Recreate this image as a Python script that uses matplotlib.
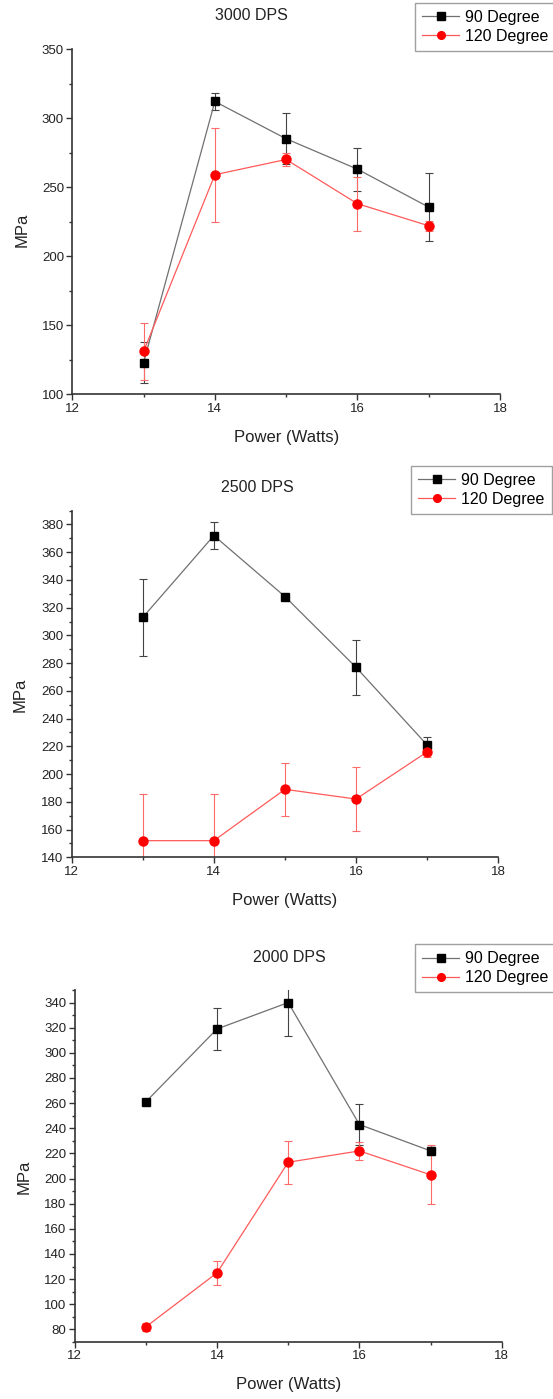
import matplotlib
matplotlib.use("Agg")
import matplotlib.pyplot as plt
from matplotlib.ticker import MultipleLocator

plt.rcParams['font.family'] = ['Liberation Sans', 'DejaVu Sans']

power = [13, 14, 15, 16, 17]

titles = ["3000 DPS", "2500 DPS", "2000 DPS"]

# 3000 DPS
d3000_90 = [123, 312, 285, 263, 235.5]
e3000_90 = [15, 6, 18.5, 15.5, 24.5]
d3000_120 = [131, 259, 270, 238, 222]
e3000_120 = [20.5, 34, 5, 19.5, 3.5]

# 2500 DPS
d2500_90 = [313, 372, 328, 277, 221]
e2500_90 = [28, 10, 2, 20, 5.5]
d2500_120 = [152, 152, 189, 182, 216]
e2500_120 = [34, 34, 19, 23, 4]

# 2000 DPS
d2000_90 = [261, 319, 340, 243, 222]
e2000_90 = [2.5, 16.5, 26.5, 16, 3.5]
d2000_120 = [82, 125, 213, 222, 203]
e2000_120 = [3.5, 9.5, 17, 7.3, 23.4]

series = [
    (d3000_90, e3000_90, d3000_120, e3000_120),
    (d2500_90, e2500_90, d2500_120, e2500_120),
    (d2000_90, e2000_90, d2000_120, e2000_120),
]

W, H = 553, 1399
fig = plt.figure(figsize=(W / 100, H / 100), dpi=100)

# axes boxes in pixels: left, right, top, bottom
boxes = [(72.3, 500, 49, 394.3), (71.7, 498.2, 510.6, 857.3), (74.6, 501.8, 990, 1342)]
ylims = [(100, 350), (140, 390), (70, 350)]
ymaj = [50, 20, 20]
ymin = [25, 10, 10]
title_pos = [(251.6, 15.6), (256.9, 487.3), (289.8, 957.3)]
legend_pos = [(415, 2.7), (411, 465.7), (415, 944)]
ylab_pos = [(-0.1176, 0.475), (-0.121, 0.469), (-0.119, 0.468)]

axis_col = '#333333'

for i in range(3):
    l, r, t, b = boxes[i]
    ax = fig.add_axes([l / W, 1 - b / H, (r - l) / W, (b - t) / H])
    d90, e90, d120, e120 = series[i]
    ax.errorbar(power, d90, yerr=e90, fmt='none', ecolor='#444444', elinewidth=0.8,
                capsize=3, capthick=0.8, zorder=2)
    ax.errorbar(power, d120, yerr=e120, fmt='none', ecolor='#ff6a6a', elinewidth=0.8,
                capsize=3, capthick=0.8, zorder=2)
    h1, = ax.plot(power, d90, '-', color='#707070', lw=0.9, marker='s', ms=6,
                  mfc='black', mec='black', zorder=3, label='90 Degree')
    h2, = ax.plot(power, d120, '-', color='#ff5a5a', lw=0.9, marker='o', ms=6.5,
                  mfc='#ff0000', mec='#ff0000', zorder=3, label='120 Degree')
    ax.set_xlim(12, 18)
    ax.set_ylim(*ylims[i])
    ax.xaxis.set_major_locator(MultipleLocator(2))
    ax.xaxis.set_minor_locator(MultipleLocator(1))
    ax.yaxis.set_major_locator(MultipleLocator(ymaj[i]))
    ax.yaxis.set_minor_locator(MultipleLocator(ymin[i]))
    for s in ['top', 'right']:
        ax.spines[s].set_visible(False)
    for s in ['left', 'bottom']:
        ax.spines[s].set_color(axis_col)
        ax.spines[s].set_linewidth(1.2)
    ax.tick_params(which='major', direction='out', length=4, width=1.0, color=axis_col,
                   labelsize=9.5, labelcolor='#222222', pad=2)
    ax.tick_params(which='minor', direction='out', length=2.5, width=1.0, color=axis_col)
    ax.set_xlabel('Power (Watts)', fontsize=12, color='#222222')
    ax.xaxis.set_label_coords(0.5, -43.0 / (b - t))
    ax.xaxis.label.set_va('center')
    ax.set_ylabel('MPa', fontsize=12, color='#222222')
    ax.yaxis.set_label_coords(*ylab_pos[i])
    ax.yaxis.label.set_va('center')
    tx, ty = title_pos[i]
    fig.text(tx / W, 1 - ty / H, titles[i], ha='center', va='center', fontsize=11.5,
             color='#222222')
    lx, ly = legend_pos[i]
    leg = ax.legend(handles=[h1, h2], loc='upper left',
                    bbox_to_anchor=(lx / W, 1 - ly / H), bbox_transform=fig.transFigure,
                    fontsize=11.5, frameon=True, fancybox=False, borderpad=0.45,
                    handlelength=2.3, handletextpad=0.4, labelspacing=0.25,
                    borderaxespad=0, numpoints=1, markerscale=0.85)
    leg.get_frame().set_edgecolor('#888888')
    leg.get_frame().set_linewidth(1.0)

fig.savefig('out.png', dpi=100)
